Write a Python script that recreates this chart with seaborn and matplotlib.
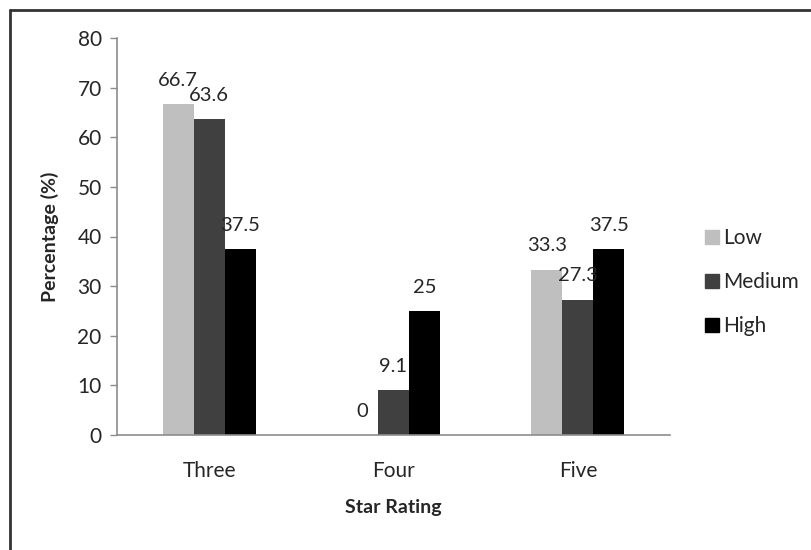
import matplotlib
matplotlib.use("Agg")
import matplotlib.pyplot as plt
import seaborn as sns
import pandas as pd
from matplotlib.lines import Line2D

# Share of hotels per star rating, split by level
ratings = ["Three", "Four", "Five"]
levels = ["Low", "Medium", "High"]
low_values = [66.7, 0, 33.3]
medium_values = [63.6, 9.1, 27.3]
high_values = [37.5, 25, 37.5]
colors = ["#BFBFBF", "#404040", "#000000"]
yticks = [0, 10, 20, 30, 40, 50, 60, 70, 80]

df = pd.DataFrame({
    "Star Rating": ratings * 3,
    "Level": [lv for lv in levels for _ in ratings],
    "Percentage": low_values + medium_values + high_values,
})

sns.set_theme(style="white")
plt.rcParams["font.family"] = ["Lato", "DejaVu Sans"]
text_color = "#262626"

fig = plt.figure(figsize=(8.12, 5.5), dpi=100)
ax = fig.add_axes([117 / 812, 1 - 435 / 550, (670 - 117) / 812, (435 - 38) / 550])

sns.barplot(data=df, x="Star Rating", y="Percentage", hue="Level",
            order=ratings, hue_order=levels, palette=colors,
            width=0.505, saturation=1, errorbar=None, legend=False, ax=ax,
            linewidth=0)

for container in ax.containers:
    ax.bar_label(container, labels=[f"{v:g}" for v in container.datavalues],
                 padding=11, fontsize=14.5, color=text_color)

ax.set_xlim(-0.5, 2.5)
ax.set_ylim(0, 80)
ax.set_yticks(yticks)
ax.tick_params(axis="y", length=5, width=1, color="#8c8c8c", labelsize=15,
               labelcolor=text_color, pad=6, left=True, direction="out")
ax.tick_params(axis="x", length=0, labelsize=15, labelcolor=text_color, pad=19)
for side in ["top", "right"]:
    ax.spines[side].set_visible(False)
for side in ["left", "bottom"]:
    ax.spines[side].set_color("#8c8c8c")
    ax.spines[side].set_linewidth(1.2)

ax.set_xlabel("Star Rating", fontsize=14, fontweight="bold", color=text_color, labelpad=13)
ax.set_ylabel("Percentage (%)", fontsize=14, fontweight="bold", color=text_color, labelpad=13)

handles = [Line2D([0], [0], marker="s", linestyle="none", markersize=10,
                  markerfacecolor=c, markeredgecolor=c) for c in colors]
fig.legend(handles, levels, loc="center left",
           bbox_to_anchor=(693 / 812, 1 - 282 / 550), frameon=False,
           fontsize=15, labelcolor=text_color, handletextpad=0.05,
           labelspacing=1.15, handlelength=1.0, borderaxespad=0)

# outer frame: top and left edges
frame_kw = dict(transform=fig.transFigure, color="#333333", linewidth=2)
fig.add_artist(Line2D([10 / 812, 1.0], [1 - 10 / 550, 1 - 10 / 550], **frame_kw))
fig.add_artist(Line2D([10 / 812, 10 / 812], [0.0, 1 - 10 / 550], **frame_kw))

fig.savefig("out.png", dpi=100)
